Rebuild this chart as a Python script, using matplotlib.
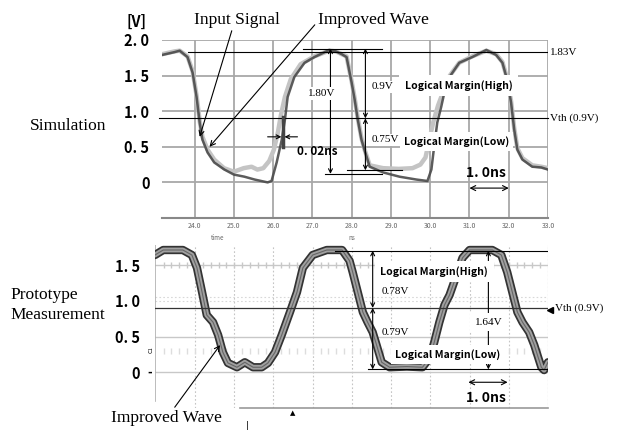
import numpy as np
import matplotlib.pyplot as plt

# -------------------------------------- #
# 数据
# -------------------------------------- #
# 仿真：改进后的波形
sim_t = [23.17, 23.49, 23.62, 23.82, 23.95, 24.05, 24.13, 24.2, 24.33, 24.5, 24.76, 25.0,
         25.27, 25.53, 25.86, 25.96, 26.09, 26.22, 26.3, 26.37, 26.54, 26.8, 27.05, 27.43,
         27.6, 27.75, 27.87, 28.0, 28.08, 28.15, 28.25, 28.33, 28.46, 28.8, 29.22, 29.65,
         29.93, 30.03, 30.1, 30.18, 30.28, 30.36, 30.49, 30.74, 31.07, 31.43, 31.68, 31.84,
         31.96, 32.06, 32.14, 32.22, 32.35, 32.6, 32.83, 33.0]
sim_improved = [1.79, 1.83, 1.85, 1.76, 1.54, 1.2, 0.84, 0.6, 0.42, 0.28, 0.18, 0.11,
                0.08, 0.04, 0.0, 0.02, 0.28, 0.6, 0.88, 1.2, 1.48, 1.68, 1.76, 1.86,
                1.84, 1.8, 1.76, 1.4, 1.15, 0.9, 0.6, 0.45, 0.22, 0.14, 0.08, 0.04,
                0.02, 0.18, 0.5, 0.84, 1.06, 1.26, 1.48, 1.68, 1.76, 1.86, 1.79, 1.68,
                1.44, 1.12, 0.74, 0.46, 0.32, 0.22, 0.21, 0.18]
# 仿真：输入信号
sim_in_t = [23.17, 23.49, 23.62, 23.82, 23.95, 24.05, 24.13, 24.2, 24.33, 24.5, 24.75, 25.0,
            25.25, 25.45, 25.6, 25.75, 25.9, 26.02, 26.12, 26.2, 26.3, 26.45, 26.7, 27.05,
            27.43, 27.6, 27.75, 27.87, 28.0, 28.08, 28.15, 28.25, 28.33, 28.46, 28.8, 29.2,
            29.55, 29.75, 29.88, 29.98, 30.08, 30.2, 30.35, 30.5, 30.74, 31.07, 31.43, 31.68,
            31.84, 31.96, 32.06, 32.14, 32.22, 32.35, 32.6, 32.83, 33.0]
sim_input = [1.8, 1.84, 1.85, 1.77, 1.56, 1.22, 0.86, 0.64, 0.46, 0.32, 0.2, 0.15,
             0.2, 0.22, 0.18, 0.2, 0.3, 0.46, 0.7, 0.95, 1.2, 1.45, 1.66, 1.77,
             1.85, 1.84, 1.8, 1.77, 1.42, 1.17, 0.92, 0.62, 0.46, 0.24, 0.2, 0.19,
             0.2, 0.25, 0.35, 0.6, 0.85, 1.08, 1.3, 1.5, 1.68, 1.77, 1.85, 1.8,
             1.69, 1.46, 1.14, 0.76, 0.48, 0.34, 0.24, 0.22, 0.2]
# 试制品实测波形
meas_t = [22.98, 23.19, 23.69, 23.92, 24.05, 24.18, 24.3, 24.46, 24.59, 24.71, 24.84, 25.07,
          25.27, 25.48, 25.7, 25.86, 26.04, 26.21, 26.42, 26.6, 26.75, 27.0, 27.36, 27.75,
          27.94, 28.02, 28.15, 28.28, 28.4, 28.53, 28.63, 28.76, 28.96, 29.4, 29.8, 29.98,
          30.1, 30.23, 30.36, 30.49, 30.67, 30.82, 31.0, 31.58, 31.81, 31.96, 32.09, 32.22,
          32.35, 32.52, 32.65, 32.83, 32.9, 33.0]
meas_v = [1.64, 1.71, 1.71, 1.64, 1.46, 1.12, 0.8, 0.7, 0.52, 0.28, 0.13, 0.07,
          0.14, 0.07, 0.07, 0.13, 0.28, 0.52, 0.84, 1.12, 1.46, 1.64, 1.71, 1.71,
          1.56, 1.4, 1.12, 0.84, 0.7, 0.56, 0.38, 0.14, 0.07, 0.08, 0.07, 0.2,
          0.42, 0.7, 0.94, 1.08, 1.36, 1.6, 1.71, 1.71, 1.64, 1.4, 1.12, 0.84,
          0.7, 0.56, 0.38, 0.07, 0.03, 0.14]

sim_xticks = [24.0, 25.0, 26.0, 27.0, 28.0, 29.0, 30.0, 31.0, 32.0, 33.0]
sim_yticks = [0, 0.5, 1.0, 1.5, 2.0]
sim_ylabels = ['0', '0. 5', '1. 0', '1. 5', '2. 0']
meas_yticks = [0, 0.5, 1.0, 1.5]
meas_ylabels = ['0', '0. 5', '1. 0', '1. 5']

vth = 0.9
sim_high = 1.83
sim_top, sim_low = 1.88, 0.17
meas_top, meas_low = 1.70, 0.04

# -------------------------------------- #
# 字体
# -------------------------------------- #
plt.rcParams['font.family'] = ['Liberation Serif', 'DejaVu Serif']
narrow = ['Noto Sans CJK JP', 'DejaVu Sans']

W, H = 617, 430
fig = plt.figure(figsize=(W / 100, H / 100), dpi=100)


def rect(x0, y0, x1, y1):
    # 像素坐标 -> figure 坐标
    return [x0 / W, 1 - y1 / H, (x1 - x0) / W, (y1 - y0) / H]


# -------------------------------------- #
# 上图：Simulation
# -------------------------------------- #
ax1 = fig.add_axes(rect(162, 40, 548, 218))
ax1.set_xlim(23.17, 33.0)
ax1.set_ylim(-0.5, 2.0)
for s in ['left', 'top', 'right']:
    ax1.spines[s].set_visible(False)
ax1.spines['bottom'].set_color('#888888')
ax1.spines['bottom'].set_linewidth(1.5)
for x in sim_xticks:
    ax1.axvline(x, color='#a8a8a8', lw=1.3, zorder=0)
for y in sim_yticks:
    ax1.axhline(y, color='#a8a8a8', lw=1.3, zorder=0)
ax1.set_xticks(sim_xticks)
ax1.set_xticklabels(['%.1f' % v for v in sim_xticks], fontsize=5, color='#666666',
                    family=narrow)
ax1.tick_params(axis='x', length=0, pad=3)
ax1.set_yticks(sim_yticks)
ax1.set_yticklabels(sim_ylabels, fontsize=10.5, fontweight='bold', family=narrow)
ax1.tick_params(axis='y', length=0, pad=9)

ax1.plot(sim_in_t, sim_input, color='#c4c4c4', lw=3.2, solid_capstyle='round', zorder=2)
ax1.plot(sim_t, sim_improved, color='#4a4a4a', lw=1.8, alpha=0.9, zorder=3)

# 参考线
ax1.plot([23.82, 33.0], [sim_high, sim_high], color='k', lw=0.8, zorder=4)
ax1.plot([23.1, 33.0], [vth, vth], color='k', lw=0.8, zorder=4, clip_on=False)
ax1.plot([26.75, 28.78], [sim_top, sim_top], color='k', lw=0.8, zorder=4)
ax1.plot([27.31, 28.78], [0.12, 0.12], color='k', lw=0.8, zorder=4)
ax1.plot([27.87, 29.29], [sim_low, sim_low], color='k', lw=0.8, zorder=4)
ax1.text(33.05, sim_high, '1.83V', fontsize=8, va='center', ha='left')
ax1.text(33.05, vth, 'Vth (0.9V)', fontsize=8, va='center', ha='left')

arr = dict(arrowstyle='<->', color='k', lw=0.8, shrinkA=0, shrinkB=0, mutation_scale=7)
ax1.annotate('', xy=(27.46, sim_top), xytext=(27.46, 0.12), arrowprops=arr, zorder=5)
ax1.annotate('', xy=(28.35, sim_top), xytext=(28.35, vth), arrowprops=arr, zorder=5)
ax1.annotate('', xy=(28.35, vth), xytext=(28.35, sim_low), arrowprops=arr, zorder=5)
ax1.text(27.23, 1.25, '1.80V', fontsize=8, ha='center', va='center', zorder=6,
         bbox=dict(facecolor='white', edgecolor='none', pad=1.5))
ax1.text(28.52, 1.34, '0.9V', fontsize=8, ha='left', va='center', zorder=6,
         bbox=dict(facecolor='white', edgecolor='none', pad=1))
ax1.text(28.52, 0.6, '0.75V', fontsize=8, ha='left', va='center', zorder=6,
         bbox=dict(facecolor='white', edgecolor='none', pad=1))
ax1.text(30.72, 1.36, 'Logical Margin(High)', fontsize=7.5, fontweight='bold', family=narrow,
         ha='center', va='center', zorder=6,
         bbox=dict(facecolor='white', edgecolor='none', pad=4))
ax1.text(30.67, 0.58, 'Logical Margin(Low)', fontsize=7.5, fontweight='bold', family=narrow,
         ha='center', va='center', zorder=6,
         bbox=dict(facecolor='white', edgecolor='none', pad=3))
ax1.text(31.43, 0.13, '1. 0ns', fontsize=10, fontweight='bold', family=narrow,
         ha='center', va='center', zorder=6)
ax1.annotate('', xy=(31.0, -0.08), xytext=(32.0, -0.08),
             arrowprops=dict(arrowstyle='<->', color='k', lw=0.8, shrinkA=0, shrinkB=0,
                             mutation_scale=9))

# 0.02ns 时间差标注
ax1.plot([26.26, 26.26], [0.5, 0.92], color='#444444', lw=2.5, zorder=4)
small = dict(arrowstyle='->', color='k', lw=0.8, shrinkA=0, shrinkB=0, mutation_scale=7)
ax1.annotate('', xy=(26.21, 0.64), xytext=(25.86, 0.64), arrowprops=small, zorder=5)
ax1.annotate('', xy=(26.29, 0.64), xytext=(26.62, 0.64), arrowprops=small, zorder=5)
ax1.text(26.6, 0.43, '0. 02ns', fontsize=8.5, fontweight='bold', family=narrow,
         ha='left', va='center', zorder=6)

# 文字标签
fig.text(137 / W, 1 - 22 / H, '[V]', fontsize=10.5, fontweight='bold', family=narrow,
         ha='center', va='center')
fig.text(218 / W, 1 - 238 / H, 'time', fontsize=4.5, color='#666666', family=narrow,
         ha='center', va='center')
fig.text(352 / W, 1 - 238 / H, 'ns', fontsize=4.5, color='#666666', family=narrow,
         ha='center', va='center')
fig.text(68 / W, 1 - 126 / H, 'Simulation', fontsize=12.5, ha='center', va='center')

lead = dict(arrowstyle='->', color='k', lw=0.8, shrinkA=0, shrinkB=0, mutation_scale=9)
ax1.annotate('Input Signal', xy=(24.13, 0.64), xycoords='data',
             xytext=(237, H - 20), textcoords='figure pixels', fontsize=12.5,
             ha='center', va='center', arrowprops=dict(lead, relpos=(0.46, 0.2)))
ax1.annotate('Improved Wave', xy=(24.38, 0.5), xycoords='data',
             xytext=(373, H - 20), textcoords='figure pixels', fontsize=12.5,
             ha='center', va='center', arrowprops=dict(lead, relpos=(0.0, 0.4)))

# -------------------------------------- #
# 下图：Prototype Measurement
# -------------------------------------- #
ax2 = fig.add_axes(rect(155, 245, 548, 408))
ax2.set_xlim(22.98, 33.0)
ax2.set_ylim(-0.5, 1.78)
for s in ax2.spines.values():
    s.set_visible(False)
for x in sim_xticks:
    ax2.axvline(x, color='#c4c4c4', lw=0.8, ls=(0, (1.5, 2)), zorder=0)
for y in [1.5, 0.5, 0]:
    ax2.axhline(y, color='#c8c8c8', lw=1.0, zorder=0)
ax2.axhline(1.0, color='#d8d8d8', lw=0.8, ls=(0, (1.5, 2)), zorder=0)
ax2.axhline(1.05, color='#d8d8d8', lw=0.8, ls=(0, (1.5, 2)), zorder=0)
tick_x = np.arange(23.2, 33.0, 0.2)
ax2.plot(tick_x, np.full(len(tick_x), 1.5), ls='none', marker='|', ms=5, color='#c8c8c8',
         zorder=0)
ax2.plot(tick_x, np.full(len(tick_x), 0.3), ls='none', marker='|', ms=5, color='#dddddd',
         zorder=0)
ax2.plot([22.98, 22.98], [-0.4, 1.78], color='#b0b0b0', lw=1.2)
ax2.plot([33.0, 33.0], [-0.5, 1.78], color='#dddddd', lw=0.8)
ax2.axhline(-0.5, xmin=(240 - 155) / 393, color='#999999', lw=1.2, clip_on=False)
ax2.set_xticks([])
ax2.set_yticks(meas_yticks)
ax2.set_yticklabels(meas_ylabels, fontsize=10.5, fontweight='bold', family=narrow)
ax2.tick_params(axis='y', length=0, pad=11)

ax2.plot(meas_t, meas_v, color='#333333', lw=6, solid_capstyle='round', zorder=2)
ax2.plot(meas_t, meas_v, color='#a0a0a0', lw=3.5, solid_capstyle='round', zorder=3)
ax2.plot(meas_t, meas_v, color='#666666', lw=0.8, zorder=3)

ax2.plot([22.98, 33.0], [vth, vth], color='#333333', lw=0.9, zorder=4)
ax2.plot([27.56, 33.0], [meas_top, meas_top], color='k', lw=0.8, zorder=4)
ax2.plot([28.4, 33.0], [meas_low, meas_low], color='k', lw=0.8, zorder=4)
ax2.plot([33.04], [vth - 0.03], marker='<', ms=4, color='k', clip_on=False)
ax2.text(33.18, vth, 'Vth (0.9V)', fontsize=8, va='center', ha='left')

ax2.annotate('', xy=(28.53, meas_top), xytext=(28.53, vth), arrowprops=arr, zorder=5)
ax2.annotate('', xy=(28.53, vth), xytext=(28.53, meas_low), arrowprops=arr, zorder=5)
ax2.annotate('', xy=(31.48, meas_top), xytext=(31.48, meas_low), arrowprops=arr, zorder=5)
ax2.text(28.76, 1.13, '0.78V', fontsize=8, ha='left', va='center', zorder=6)
ax2.text(28.76, 0.56, '0.79V', fontsize=8, ha='left', va='center', zorder=6)
ax2.text(31.48, 0.70, '1.64V', fontsize=8, ha='center', va='center', zorder=6,
         bbox=dict(facecolor='white', edgecolor='none', pad=3))
ax2.text(30.1, 1.41, 'Logical Margin(High)', fontsize=7.5, fontweight='bold', family=narrow,
         ha='center', va='center', zorder=6,
         bbox=dict(facecolor='white', edgecolor='none', pad=4))
ax2.text(30.44, 0.25, 'Logical Margin(Low)', fontsize=7.5, fontweight='bold', family=narrow,
         ha='center', va='center', zorder=6,
         bbox=dict(facecolor='white', edgecolor='none', pad=3))
ax2.annotate('', xy=(30.97, -0.14), xytext=(31.97, -0.14),
             arrowprops=dict(arrowstyle='<->', color='k', lw=0.8, shrinkA=0, shrinkB=0,
                             mutation_scale=9))
ax2.text(31.43, -0.36, '1. 0ns', fontsize=10, fontweight='bold', family=narrow,
         ha='center', va='center', zorder=6)

# 刻度旁的小标记
fig.text(151 / W, 1 - 350 / H, 'C1', fontsize=4, family=narrow, ha='center', va='center',
         rotation=90)
fig.text(150 / W, 1 - 372 / H, '-', fontsize=9, fontweight='bold', family=narrow,
         ha='center', va='center')
fig.text(293 / W, 1 - 413 / H, '▲', fontsize=5, ha='center', va='center',
         family=['DejaVu Sans'])
fig.text(247 / W, 1 - 426 / H, '|', fontsize=6, ha='center', va='center',
         family=['DejaVu Sans'])

fig.text(10 / W, 1 - 295 / H, 'Prototype', fontsize=12.5, ha='left', va='center')
fig.text(10 / W, 1 - 315 / H, 'Measurement', fontsize=12.5, ha='left', va='center')
ax2.annotate('Improved Wave', xy=(24.64, 0.38), xycoords='data',
             xytext=(166, H - 418), textcoords='figure pixels', fontsize=12.5,
             ha='center', va='center', arrowprops=dict(lead, relpos=(0.55, 0.9)))

fig.savefig('out.png', dpi=100)
